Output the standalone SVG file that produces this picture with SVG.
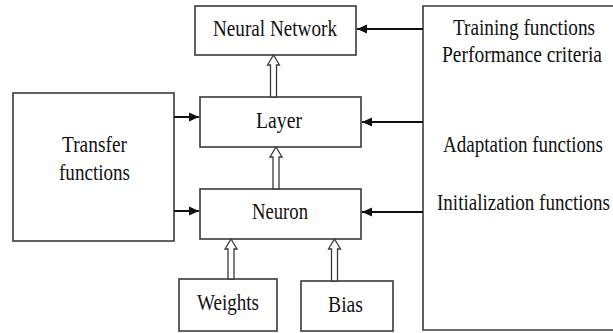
<svg xmlns="http://www.w3.org/2000/svg" width="613" height="333" viewBox="0 0 613 333">
<defs>
<style>
.box{fill:#fff;stroke:#3a3a3a;stroke-width:1.6}
.ln{stroke:#111;stroke-width:2;fill:none}
.hol{fill:#fff;stroke:#3a3a3a;stroke-width:1.3;stroke-linejoin:miter}
</style>
<marker id="ah" viewBox="0 0 10 10" refX="10" refY="5" markerWidth="10" markerHeight="10" markerUnits="userSpaceOnUse" orient="auto">
<path d="M0,0.5 L10,5 L0,9.5 Z" fill="#111"/>
</marker>
</defs>
<rect width="613" height="333" fill="#fff"/>
<g font-family="Liberation Serif, serif" font-size="23" fill="#111" text-anchor="middle">
<g id="neural-network"><rect class="box" x="195" y="6" width="161" height="49"/><text x="275" y="35.5" textLength="124" lengthAdjust="spacingAndGlyphs">Neural Network</text></g>
<g id="layer"><rect class="box" x="200" y="97" width="161" height="50"/><text x="279" y="128" textLength="46" lengthAdjust="spacingAndGlyphs">Layer</text></g>
<g id="neuron"><rect class="box" x="200" y="189" width="161" height="50"/><text x="280" y="219" textLength="56" lengthAdjust="spacingAndGlyphs">Neuron</text></g>
<g id="transfer"><rect class="box" x="13" y="93" width="161" height="148"/><text x="94.5" y="152" textLength="65" lengthAdjust="spacingAndGlyphs">Transfer</text><text x="94.5" y="180" textLength="71" lengthAdjust="spacingAndGlyphs">functions</text></g>
<g id="weights"><rect class="box" x="179" y="279" width="98" height="52"/><text x="228" y="310" textLength="62" lengthAdjust="spacingAndGlyphs">Weights</text></g>
<g id="bias"><rect class="box" x="301" y="281" width="92" height="50"/><text x="345.5" y="312" textLength="35" lengthAdjust="spacingAndGlyphs">Bias</text></g>
<g id="functions-panel"><path class="box" d="M620,6 H423 V330 H620"/>
<text x="524" y="35" textLength="142" lengthAdjust="spacingAndGlyphs">Training functions</text>
<text x="522" y="61.5" textLength="160" lengthAdjust="spacingAndGlyphs">Performance criteria</text>
<text x="523" y="152" textLength="160" lengthAdjust="spacingAndGlyphs">Adaptation functions</text>
<text x="523.5" y="210" textLength="173" lengthAdjust="spacingAndGlyphs">Initialization functions</text></g>
</g>
<g id="connectors">
<line class="ln" x1="423" y1="29" x2="357" y2="29" marker-end="url(#ah)"/>
<line class="ln" x1="423" y1="122" x2="362" y2="122" marker-end="url(#ah)"/>
<line class="ln" x1="423" y1="212" x2="362" y2="212" marker-end="url(#ah)"/>
<line class="ln" x1="174" y1="117" x2="199" y2="117" marker-end="url(#ah)"/>
<line class="ln" x1="174" y1="211" x2="199" y2="211" marker-end="url(#ah)"/>
<polygon class="hol" points="270.5,97 270.5,65 267.5,65 273.5,55 279.5,65 276.5,65 276.5,97"/>
<polygon class="hol" points="273,189 273,157 270,157 276,147 282,157 279,157 279,189"/>
<polygon class="hol" points="228,279 228,249 225,249 231,239 237,249 234,249 234,279"/>
<polygon class="hol" points="331.5,281 331.5,249 328.5,249 334.5,239 340.5,249 337.5,249 337.5,281"/>
</g>
</svg>
